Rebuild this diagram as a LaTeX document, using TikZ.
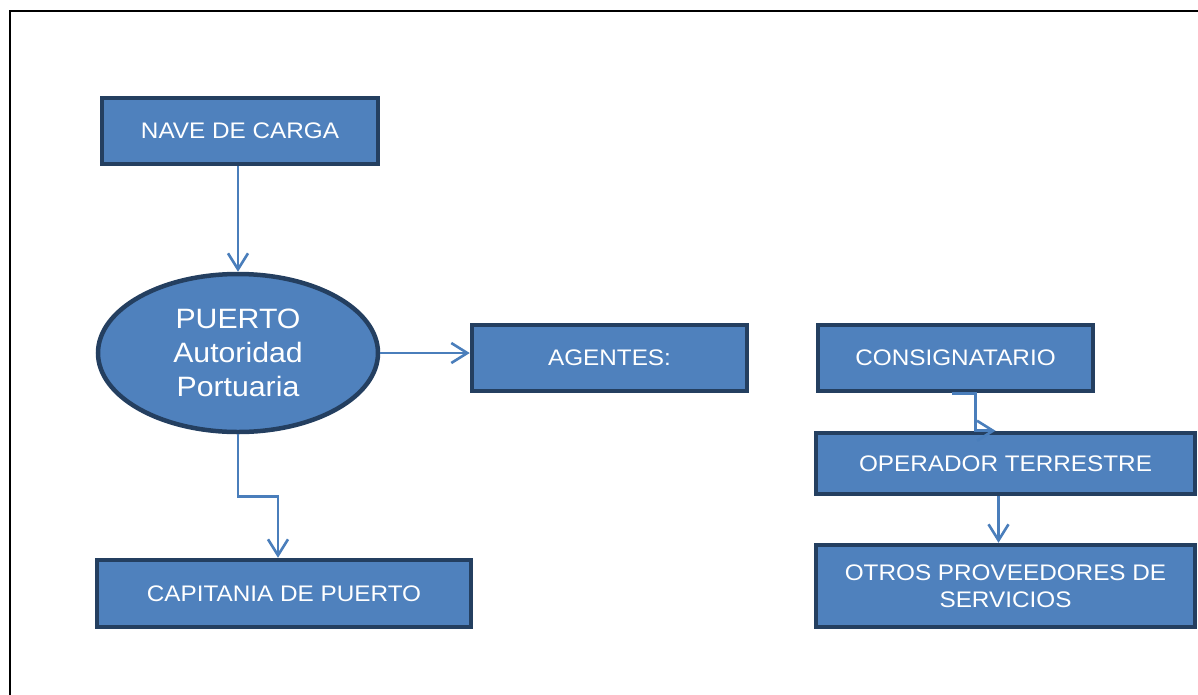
\documentclass[tikz,border=0pt]{standalone}
\usepackage{fontspec}
\setmainfont{Liberation Sans}[FakeStretch=1.08]
\usetikzlibrary{arrows.meta,shapes.geometric}
\definecolor{boxfill}{HTML}{4F81BD}
\definecolor{boxline}{HTML}{243F60}
\definecolor{arrcol}{HTML}{4A7EBB}
\tikzset{
  box/.style={draw=boxline, fill=boxfill, line width=4.5pt, inner sep=0pt,
    text=white, font=\fontsize{22.5}{26.5}\selectfont, align=center},
  ellbox/.style={ellipse, draw=boxline, fill=boxfill, line width=4.5pt, inner sep=0pt,
    text=white, font=\fontsize{28}{34}\selectfont, align=center},
  arr/.style={draw=arrcol, line width=2.6pt, -{Straight Barb[length=16pt,width=20pt]}},
}
\begin{document}
\begin{tikzpicture}[x=1pt,y=-1pt]
\useasboundingbox (0,0) rectangle (1198,694);
\draw[line width=2.5pt] (10,700) -- (10,11) -- (1205,11);

\node[box, minimum width=276, minimum height=66] (nave) at (240,131) {NAVE DE CARGA};
\node[ellbox, minimum width=280, minimum height=158] (ell) at (238,353) {PUERTO\\Autoridad\\Portuaria};
\node[box, minimum width=275, minimum height=66] (agentes) at (609.5,358) {AGENTES:};
\node[box, minimum width=275, minimum height=66] (cons) at (955.5,358) {CONSIGNATARIO};
\node[box, minimum width=379, minimum height=61] (oper) at (1005.5,463.5) {OPERADOR TERRESTRE};
\node[box, minimum width=379, minimum height=82] (otros) at (1005.5,586) {OTROS PROVEEDORES DE\\SERVICIOS};
\node[box, minimum width=374, minimum height=67] (cap) at (284,593.5) {CAPITANIA DE PUERTO};

\draw[arr] (nave.south -| ell.north) -- (ell.north);
\draw[arr] (ell.east) -- (agentes.west |- ell.east);
\draw[arr] (ell.south) -- ++(0,62) -| ([xshift=-6pt]cap.north);
\draw[arr] ([xshift=-4pt]cons.south) -- ++(24,0) |- ([xshift=-10pt]oper.north);
\draw[arr] ([xshift=-7pt]oper.south) -- ([xshift=-7pt]otros.north);
\end{tikzpicture}
\end{document}
